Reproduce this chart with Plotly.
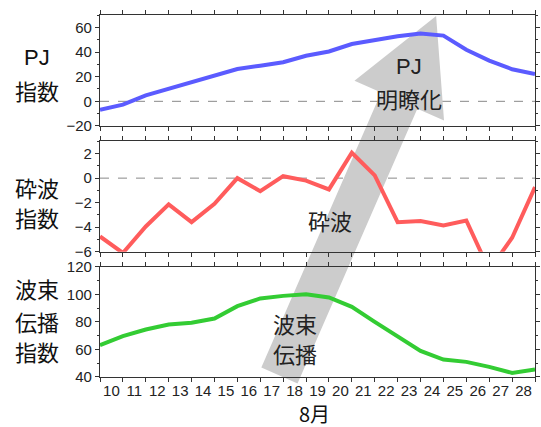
import plotly.graph_objects as go
from plotly.subplots import make_subplots
import math

# ---------------- data ----------------
days = list(range(10, 30))
day_labels = [str(d) for d in range(10, 29)]
pj_index = [-6.8, -2.7, 4.9, 10.4, 15.3, 21.3, 26.2, 28.9, 31.7, 36.9,
            40.4, 46.5, 50.0, 52.7, 54.9, 53.3, 41.8, 33.0, 26.0, 22.1]
breaking_index = [-4.75, -6.1, -3.94, -2.14, -3.59, -2.09, 0.0, -1.06, 0.16, -0.2,
                  -0.92, 2.07, 0.22, -3.59, -3.5, -3.85, -3.45, -7.5, -4.86, -0.73]
propagation_index = [63.1, 69.7, 74.5, 78.2, 79.4, 82.5, 91.5, 97.1, 99.0, 100.2,
                     97.8, 91.0, 80.1, 69.7, 59.0, 52.7, 51.0, 47.4, 43.0, 45.5]

W, H = 541, 427
ML, MR, MT, MB = 100, 1, 15, 50
PW, PH = W - ML - MR, H - MT - MB

def px(x, y):
    return (x - ML) / PW, (H - MB - y) / PH

fig = make_subplots(rows=3, cols=1, shared_xaxes=False, vertical_spacing=0.0)
fig.update_layout(
    yaxis=dict(domain=[0.6934, 1.0]),
    yaxis2=dict(domain=[0.346, 0.651]),
    yaxis3=dict(domain=[0.0, 0.3039]),
)

colors = ["#5b5bff", "#ff5c5c", "#33cc33"]
series = [pj_index, breaking_index, propagation_index]
for i, (s, c) in enumerate(zip(series, colors), start=1):
    fig.add_trace(go.Scatter(x=days, y=s, mode="lines",
                             line=dict(color=c, width=4), showlegend=False,
                             hoverinfo="skip"), row=i, col=1)

tick_font = dict(family="Liberation Sans, Arial, sans-serif", size=15, color="#222")
axis_common = dict(showline=True, linecolor="#333", linewidth=1.2, mirror="allticks",
                   showgrid=False, zeroline=False, ticks="outside", tickcolor="#333")

for i in range(1, 4):
    fig.update_xaxes(range=[10, 29], tickmode="array",
                     tickvals=[d + 0.5 for d in range(10, 29)],
                     ticktext=day_labels if i == 3 else [""] * 19,
                     showticklabels=(i == 3), ticklen=0,
                     minor=dict(tickvals=days, ticks="outside", ticklen=4,
                                tickcolor="#333", showgrid=False),
                     tickfont=tick_font, row=i, col=1, **axis_common)

yfont = dict(family="Liberation Sans, Arial, sans-serif", size=15, color="#222")
fig.update_yaxes(range=[-20, 70], tickvals=[-20, 0, 20, 40, 60], ticklen=4,
                 minor=dict(dtick=10, ticks="outside", ticklen=2, tickcolor="#333"),
                 tickfont=yfont, row=1, col=1, **axis_common)
fig.update_yaxes(range=[-6, 3], tickvals=[-6, -4, -2, 0, 2], ticklen=4,
                 minor=dict(dtick=1, ticks="outside", ticklen=2, tickcolor="#333"),
                 tickfont=yfont, row=2, col=1, **axis_common)
fig.update_yaxes(range=[40, 120], tickvals=[40, 60, 80, 100, 120], ticklen=4,
                 minor=dict(dtick=10, ticks="outside", ticklen=2, tickcolor="#333"),
                 tickfont=yfont, row=3, col=1, **axis_common)

# zero dashed lines
for ya, xa in (("y", "x domain"), ("y2", "x2 domain")):
    fig.add_shape(type="line", xref=xa, yref=ya, x0=0, x1=1, y0=0, y1=0,
                  line=dict(color="#888", width=1, dash="dash"), layer="below")

# big grey arrow (decoration, pixel geometry -> paper)
tail = (281.5, 375.5)
tip = (440.0, 16.0)
shaft_half, head_half, head_len = 20.0, 49.5, 92.5
dx, dy = tip[0] - tail[0], tip[1] - tail[1]
L = math.hypot(dx, dy)
ux, uy = dx / L, dy / L
pxv, pyv = -uy, ux
bx, by = tail[0] + ux * (L - head_len), tail[1] + uy * (L - head_len)
pts = [
    (tail[0] - pxv * shaft_half, tail[1] - pyv * shaft_half),
    (bx - pxv * shaft_half, by - pyv * shaft_half),
    (bx - pxv * head_half, by - pyv * head_half),
    tip,
    (bx + pxv * head_half, by + pyv * head_half),
    (bx + pxv * shaft_half, by + pyv * shaft_half),
    (tail[0] + pxv * shaft_half, tail[1] + pyv * shaft_half),
]
ppts = [px(*p) for p in pts]
path = "M " + " L ".join(f"{a:.4f},{b:.4f}" for a, b in ppts) + " Z"
fig.add_shape(type="path", xref="paper", yref="paper", path=path,
              fillcolor="#cccccc", line=dict(width=0), layer="below")

cjk = "Noto Sans CJK JP, sans-serif"
def label(text, x, y, size=22, color="#111", font=cjk):
    X, Y = px(x, y)
    fig.add_annotation(text=text, x=X, y=Y, xref="paper", yref="paper",
                       showarrow=False, xanchor="center", yanchor="middle",
                       font=dict(family=font, size=size, color=color))

# axis titles
label("PJ", 36, 58, font="Liberation Sans, Arial, sans-serif")
label("指数", 36, 90)
label("砕波", 36, 187)
label("指数", 36, 217)
label("波束", 36, 288)
label("伝播", 36, 321)
label("指数", 36, 351)
label("8月", 317, 413, size=20)

# labels on the arrow
label("PJ", 413, 67, color="#222", font="Liberation Sans, Arial, sans-serif")
label("明瞭化", 413, 98, color="#222")
label("砕波", 333, 220, color="#222")
label("波束", 297, 323, color="#222")
label("伝播", 297, 353, color="#222")

fig.update_layout(width=W, height=H, margin=dict(l=ML, r=MR, t=MT, b=MB),
                  plot_bgcolor="white", paper_bgcolor="white")

fig.write_html("out.html")
